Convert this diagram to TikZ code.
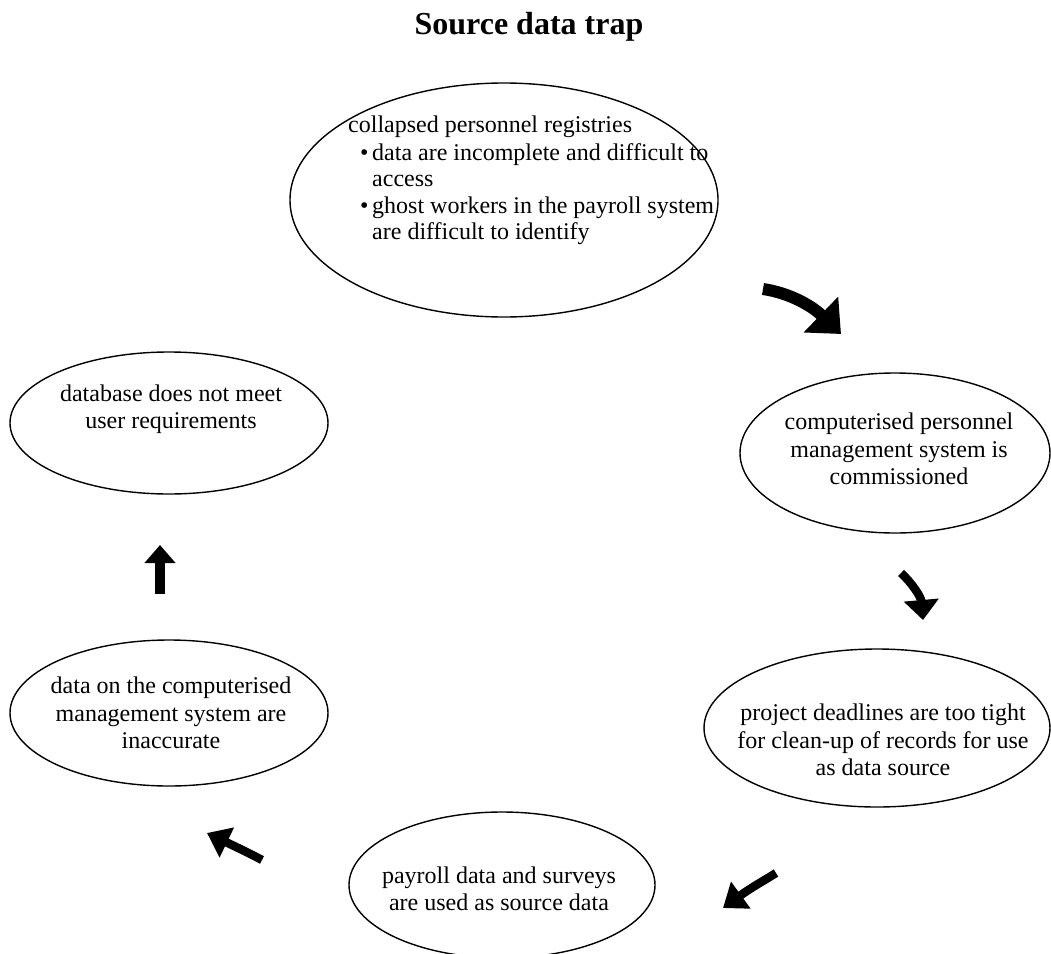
\documentclass[tikz,border=0pt]{standalone}
\usepackage{fontspec}
\setmainfont{Liberation Serif}
\usetikzlibrary{shapes.geometric,arrows.meta}
\begin{document}
\begin{tikzpicture}[x=1pt,y=-1pt,
  oval/.style={draw,ellipse,line width=1.4pt,inner sep=0pt},
  txt/.style={align=center,font=\fontsize{24}{27.5}\selectfont,inner sep=0pt},
]
\useasboundingbox (0,0) rectangle (1051,953);
\node[font=\fontsize{32}{36}\selectfont\bfseries,anchor=base] (title) at (529,34) {Source data trap};

\node[oval,minimum width=428,minimum height=234] (top) at (504,200) {};
\node[align=left,anchor=north west,inner sep=0pt,font=\fontsize{24}{26.3}\selectfont] (toptxt) at (348,116) {%
collapsed personnel registries\\[1.5pt]
\hspace*{12pt}\makebox[12pt][l]{\textbullet}data are incomplete and difficult to\\
\hspace*{24pt}access\\
\hspace*{12pt}\makebox[12pt][l]{\textbullet}ghost workers in the payroll system\\
\hspace*{24pt}are difficult to identify};

\node[oval,minimum width=310,minimum height=160] (comp) at (895,453) {};
\node[txt] (comptxt) at (899,449) {computerised personnel\\management system is\\commissioned};

\node[oval,minimum width=346,minimum height=158] (proj) at (877,728) {};
\node[txt] (projtxt) at (883,740) {project deadlines are too tight\\for clean-up of records for use\\as data source};

\node[oval,minimum width=306,minimum height=146] (pay) at (502,885) {};
\node[txt] (paytxt) at (499,889) {payroll data and surveys\\are used as source data};

\node[oval,minimum width=318,minimum height=146] (inacc) at (169,713) {};
\node[txt] (inacctxt) at (171,713) {data on the computerised\\management system are\\inaccurate};

\node[oval,minimum width=318,minimum height=142] (db) at (169,423) {};
\node[txt] (dbtxt) at (171,409) {database does not meet\\user requirements};

\coordinate (a1s) at (763,289);
\coordinate (a1e) at (841,334);
\coordinate (a2s) at (901,573);
\coordinate (a2e) at (923,620);
\coordinate (a3s) at (776,873);
\coordinate (a3e) at (723,908);
\coordinate (a4s) at (262,860);
\coordinate (a4e) at (207,833);
\coordinate (a5s) at (160,594);
\coordinate (a5e) at (160,545);

\draw[line width=12pt,-{Triangle[length=28pt,width=48pt]}] (a1s) .. controls (790,293) and (812,306) .. (a1e);
\draw[line width=8.5pt,-{Triangle[length=20pt,width=34pt]}] (a2s) .. controls (912,583) and (921,597) .. (a2e);
\draw[line width=8.5pt,-{Triangle[length=22pt,width=32pt]}] (a3s) .. controls (765,880) and (752,887) .. (a3e);
\draw[line width=8.5pt,-{Triangle[length=22pt,width=32pt]}] (a4s) .. controls (247,852) and (232,845) .. (a4e);
\draw[line width=10pt,-{Triangle[length=18pt,width=30pt]}] (a5s) -- (a5e);
\end{tikzpicture}
\end{document}
